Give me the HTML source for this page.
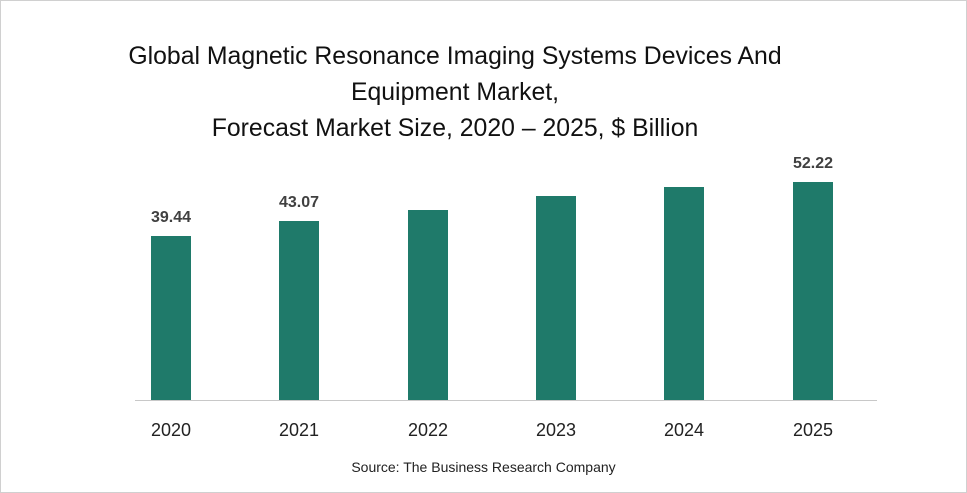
<!DOCTYPE html><html><head><style>
body{margin:0;width:967px;height:493px;overflow:hidden;background:#fff;font-family:"Liberation Sans",sans-serif}
.f{position:absolute;left:0;top:0;width:965px;height:491px;border:1px solid #d0d0d0}
.t{position:absolute;left:0;width:910px;text-align:center;font-size:24.8px;color:#111}
.b{position:absolute;background:#1f7a6a;width:40px}
.v{position:absolute;width:80px;text-align:center;font-size:16px;font-weight:bold;color:#404040}
.y{position:absolute;width:80px;text-align:center;font-size:18px;color:#222;top:420px}
</style></head><body><div class="f"></div>
<div class="t" style="top:43px">Global Magnetic Resonance Imaging Systems Devices And</div>
<div class="t" style="top:79px">Equipment Market,</div>
<div class="t" style="top:115px">Forecast Market Size, 2020 – 2025, $ Billion</div>
<div style="position:absolute;left:135px;top:400px;width:742px;height:1px;background:#c8c8c8"></div>
<div class="b" style="left:151px;top:236px;height:164px"></div>
<div class="b" style="left:279px;top:221px;height:179px"></div>
<div class="b" style="left:408px;top:210px;height:190px"></div>
<div class="b" style="left:536px;top:196px;height:204px"></div>
<div class="b" style="left:664px;top:187px;height:213px"></div>
<div class="b" style="left:793px;top:182px;height:218px"></div>
<div class="v" style="left:131px;top:209px">39.44</div>
<div class="v" style="left:259px;top:194px">43.07</div>
<div class="v" style="left:773px;top:155px">52.22</div>
<div class="y" style="left:131px">2020</div><div class="y" style="left:259px">2021</div><div class="y" style="left:388px">2022</div><div class="y" style="left:516px">2023</div><div class="y" style="left:644px">2024</div><div class="y" style="left:773px">2025</div>
<div style="position:absolute;left:0;width:967px;text-align:center;top:459px;font-size:14px;color:#222">Source: The Business Research Company</div>
</body></html>
